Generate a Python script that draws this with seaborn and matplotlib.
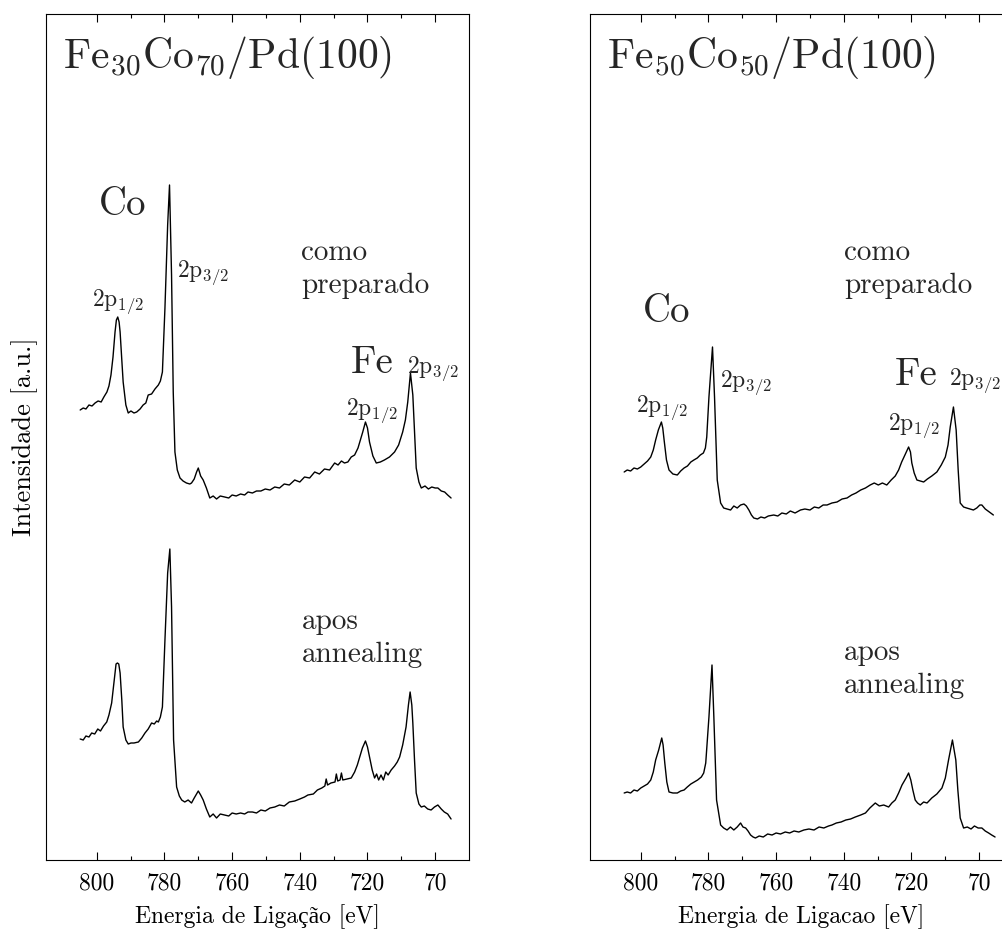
import matplotlib
matplotlib.use("Agg")
import matplotlib.pyplot as plt
import seaborn as sns

# ---------------- data ----------------
# binding energy [eV] and intensity [a.u.]
E_30_prep = [804.9, 804.0, 803.2, 802.3, 801.4, 800.5, 799.6, 798.7, 797.9, 797.0, 796.4, 795.8, 795.2, 794.6,
             794.2, 793.8, 793.4, 793.1, 792.6, 792.2, 791.4, 790.7, 789.9, 789.0, 788.2, 787.2, 786.3, 785.5,
             784.8, 783.8, 782.8, 781.8, 781.2, 780.6, 779.85, 779.05, 778.5, 777.9, 777.4, 776.9, 776.2, 775.4,
             774.5, 773.5, 772.5, 772.0, 771.2, 770.5, 770.0, 769.3, 768.55, 767.6, 766.6, 765.6, 764.6, 763.5,
             762.2, 761.0, 760.0, 758.8, 757.5, 756.3, 755.3, 754.0, 752.8, 751.5, 750.2, 748.8, 747.4, 746.0,
             744.6, 743.1, 741.5, 740.0, 738.6, 737.1, 735.6, 734.2, 732.7, 731.2, 729.7, 728.7, 727.7, 726.8,
             725.8, 724.8, 723.8, 722.8, 722.1, 721.4, 720.6, 720.0, 719.4, 718.4, 717.4, 716.2, 715.0, 713.5,
             712.0, 710.8, 709.6, 708.8, 708.1, 707.3, 706.6, 705.6, 704.8, 704.1, 703.0, 702.0, 701.0, 700.0,
             699.2, 698.2, 697.2, 696.3, 695.3]
I_30_prep = [450, 452, 451, 455, 454, 457, 459, 458, 463, 468, 474, 485, 503, 528,
             540, 543, 538, 528, 500, 478, 455, 447, 449, 447, 448, 451, 455, 457,
             465, 466, 471, 475, 479, 488, 552, 635, 675, 585, 468, 408, 390, 382,
             379, 377, 376, 377, 381, 388, 392, 384, 380, 372, 362, 364, 361, 364,
             363, 362, 365, 364, 366, 365, 368, 367, 369, 369, 371, 370, 373, 372,
             376, 375, 380, 378, 383, 382, 388, 386, 391, 390, 397, 395, 399, 397,
             398, 403, 405, 412, 420, 428, 438, 432, 418, 404, 397, 398, 400, 403,
             408, 415, 428, 440, 458, 487, 465, 392, 378, 372, 374, 371, 373, 372,
             372, 369, 368, 365, 362]

E_30_ann = [804.9, 804.0, 803.2, 802.3, 801.5, 800.6, 799.7, 798.9, 798.0, 797.05, 796.4, 795.6, 795.1, 794.6,
            794.3, 793.9, 793.5, 793.1, 792.6, 792.2, 791.4, 790.7, 789.9, 789.0, 787.7, 786.7, 785.75, 784.8,
            783.8, 783.0, 782.3, 781.8, 781.2, 780.6, 779.85, 779.05, 778.4, 777.9, 777.3, 776.4, 775.6, 774.9,
            774.0, 773.0, 772.0, 771.2, 770.5, 770.0, 769.3, 768.55, 767.6, 766.6, 765.6, 764.6, 763.5, 762.2,
            761.0, 760.0, 758.8, 757.5, 756.3, 755.3, 754.0, 752.8, 751.5, 750.2, 748.8, 747.4, 746.0, 744.6,
            743.1, 741.5, 740.0, 738.6, 737.6, 736.0, 734.8, 733.5, 732.6, 732.2, 731.8, 730.8, 729.6, 729.2,
            728.8, 728.1, 727.7, 727.3, 726.0, 724.8, 723.8, 723.0, 722.3, 721.5, 720.6, 720.0, 719.4, 718.6,
            717.9, 717.3, 716.7, 716.0, 715.3, 714.6, 713.9, 713.0, 712.0, 711.2, 710.5, 709.6, 708.6, 707.9,
            707.4, 706.9, 706.6, 706.1, 705.6, 704.8, 704.1, 703.2, 702.2, 701.2, 700.2, 699.2, 698.2, 697.3,
            696.3, 695.3]
I_30_ann = [121, 120, 124, 123, 127, 126, 131, 129, 134, 138, 145, 157, 172, 187,
            196, 197, 196, 187, 160, 133, 120, 116, 117, 117, 118, 122, 127, 131,
            137, 136, 139, 138, 143, 153, 220, 287, 311, 253, 120, 73, 64, 60,
            58, 60, 57, 62, 66, 69, 65, 60, 51, 43, 46, 42, 46, 45,
            44, 47, 46, 47, 46, 48, 48, 47, 50, 49, 52, 53, 55, 54,
            58, 59, 61, 63, 65, 66, 70, 72, 74, 81, 75, 77, 78, 86,
            79, 80, 87, 80, 81, 82, 88, 95, 103, 112, 119, 113, 103, 90,
            82, 86, 80, 85, 80, 88, 85, 90, 94, 98, 103, 115, 133, 155,
            168, 155, 137, 100, 67, 56, 53, 54, 51, 50, 53, 55, 51, 48,
            46, 41]

E_50_prep = [804.9, 804.0, 803.0, 802.0, 801.0, 800.0, 799.0, 798.0, 797.05, 796.3, 795.6, 794.8, 793.9, 793.5,
             793.1, 792.4, 791.65, 790.5, 789.2, 788.2, 787.2, 786.2, 785.2, 784.3, 783.3, 782.4, 781.5, 780.9,
             780.5, 779.85, 778.8, 778.2, 777.4, 776.4, 775.5, 774.5, 773.45, 772.5, 771.5, 770.5, 769.5, 768.8,
             768.05, 767.3, 766.6, 765.5, 764.5, 763.4, 762.3, 760.7, 759.5, 758.3, 757.0, 755.8, 754.4, 752.8,
             751.5, 750.0, 748.7, 747.4, 746.1, 744.95, 743.5, 742.0, 740.5, 739.05, 737.7, 736.4, 735.0, 733.6,
             732.2, 731.0, 729.8, 728.6, 727.3, 726.0, 724.8, 723.8, 722.9, 721.8, 720.85, 720.3, 719.9, 719.2,
             718.4, 717.4, 716.4, 715.3, 714.0, 712.5, 711.2, 710.0, 709.2, 708.55, 707.6, 706.8, 706.2, 705.6,
             704.6, 703.7, 702.7, 701.7, 700.7, 699.8, 699.2, 698.2, 697.0, 695.8]
I_50_prep = [388, 390, 389, 392, 391, 393, 396, 399, 403, 410, 420, 430, 438, 432,
             420, 400, 390, 386, 385, 389, 392, 394, 398, 400, 402, 405, 407, 412,
             423, 463, 513, 463, 380, 357, 352, 351, 350, 354, 352, 355, 356, 354,
             350, 345, 342, 341, 343, 342, 344, 345, 344, 347, 346, 349, 347, 350,
             351, 350, 353, 352, 355, 355, 357, 358, 361, 362, 365, 367, 370, 372,
             375, 377, 375, 377, 375, 380, 384, 390, 398, 406, 413, 408, 397, 387,
             380, 379, 378, 381, 384, 388, 395, 403, 415, 433, 453, 430, 390, 357,
             353, 352, 351, 350, 352, 355, 355, 351, 348, 345]

E_50_ann = [804.9, 804.0, 803.0, 802.0, 801.0, 800.0, 799.0, 798.0, 797.05, 796.3, 795.6, 794.7, 793.8, 793.4,
            792.9, 792.3, 791.65, 790.5, 789.2, 788.2, 787.2, 786.25, 785.2, 784.2, 783.2, 782.1, 781.4, 780.8,
            779.85, 778.95, 778.4, 777.6, 776.4, 775.5, 774.5, 773.5, 772.5, 771.5, 770.5, 769.8, 769.0, 768.3,
            767.55, 766.8, 766.1, 765.0, 763.8, 762.5, 761.2, 760.0, 758.7, 757.3, 756.0, 754.7, 753.3, 751.8,
            750.3, 748.8, 747.3, 745.9, 744.5, 743.5, 742.2, 740.8, 739.4, 738.0, 736.6, 735.0, 733.6, 732.3,
            730.7, 729.5, 728.2, 726.75, 725.8, 724.8, 723.8, 722.8, 721.6, 720.85, 720.2, 719.6, 718.9, 718.2,
            717.4, 716.4, 715.4, 714.0, 712.5, 711.0, 710.0, 709.05, 707.9, 706.9, 706.3, 705.6, 704.6, 703.5,
            702.4, 701.4, 700.3, 699.2, 698.2, 697.2, 696.3, 695.3]
I_50_ann = [67, 68, 67, 70, 69, 72, 74, 76, 80, 88, 100, 110, 122, 115,
            97, 78, 68, 67, 67, 69, 70, 73, 76, 78, 80, 83, 87, 97,
            143, 195, 143, 60, 35, 32, 30, 33, 30, 33, 37, 33, 32, 29,
            25, 23, 22, 24, 23, 26, 25, 27, 26, 28, 27, 29, 28, 30,
            31, 30, 33, 32, 34, 35, 37, 38, 40, 41, 43, 45, 47, 52,
            57, 54, 55, 53, 57, 60, 67, 75, 82, 87, 80, 70, 60, 57,
            55, 58, 57, 62, 66, 72, 82, 100, 120, 100, 70, 42, 32, 33,
            31, 34, 32, 32, 29, 27, 25, 23]

major_ticks = [800, 780, 760, 740, 720, 700]
tick_labels = ["800", "780", "760", "740", "720", "70"]
minor_ticks = [790, 770, 750, 730, 710]

titles = [r"Fe$_{30}$Co$_{70}$/Pd(100)", r"Fe$_{50}$Co$_{50}$/Pd(100)"]
xlabels = ["Energia de Ligação [eV]", "Energia de Ligacao [eV]"]

# ---------------- style ----------------
sns.set_theme(style="white")
plt.rcParams["font.family"] = ["cmr10", "Liberation Serif"]
plt.rcParams["mathtext.fontset"] = "cm"
plt.rcParams["axes.formatter.use_mathtext"] = True
plt.rcParams["axes.unicode_minus"] = False

fig = plt.figure(figsize=(10.02, 9.32), dpi=100)
ax1 = fig.add_axes([46 / 1002, 72 / 932, 423 / 1002, 846 / 932])
ax2 = fig.add_axes([590 / 1002, 72 / 932, 423 / 1002, 846 / 932])

panels = [
    (ax1, E_30_prep, I_30_prep, E_30_ann, I_30_ann),
    (ax2, E_50_prep, I_50_prep, E_50_ann, I_50_ann),
]

for i, (ax, ep, ip, ea, ia) in enumerate(panels):
    sns.lineplot(x=ep, y=ip, ax=ax, color="black", linewidth=1.0, estimator=None, sort=False)
    sns.lineplot(x=ea, y=ia, ax=ax, color="black", linewidth=1.0, estimator=None, sort=False)
    ax.set_xlim(815, 690)
    ax.set_ylim(0, 846)
    ax.set_xticks(major_ticks)
    ax.set_xticklabels(tick_labels)
    ax.set_xticks(minor_ticks, minor=True)
    ax.set_yticks([])
    ax.tick_params(axis="x", which="both", direction="in", top=True, bottom=True,
                   colors="black", labelsize=17, pad=9, width=0.8)
    ax.tick_params(axis="x", which="major", length=6)
    ax.tick_params(axis="x", which="minor", length=3)
    for sp in ax.spines.values():
        sp.set_visible(True)
        sp.set_color("black")
        sp.set_linewidth(0.8)
    ax.set_xlabel(xlabels[i], fontsize=17, labelpad=7, color="black")
    ax.text(809.9, 792, titles[i], fontsize=30, ha="left", va="baseline")

ax1.set_ylabel("Intensidade [a.u.]", fontsize=19, labelpad=6, color="black")

# left panel annotations
ax1.text(799.5, 645, "Co", fontsize=28, ha="left", va="baseline")
ax1.text(724.8, 487, "Fe", fontsize=28, ha="left", va="baseline")
ax1.text(801.5, 554, r"2p$_{1/2}$", fontsize=17, ha="left", va="baseline")
ax1.text(776.4, 583, r"2p$_{3/2}$", fontsize=17, ha="left", va="baseline")
ax1.text(726.3, 445, r"2p$_{1/2}$", fontsize=17, ha="left", va="baseline")
ax1.text(708.4, 487, r"2p$_{3/2}$", fontsize=17, ha="left", va="baseline")
ax1.text(739.5, 566.7, "como\npreparado", fontsize=21, ha="left", va="baseline", linespacing=1.32)
ax1.text(739.5, 198.3, "apos\nannealing", fontsize=21, ha="left", va="baseline", linespacing=1.32)

# right panel annotations
ax2.text(799.5, 538.3, "Co", fontsize=28, ha="left", va="baseline")
ax2.text(724.8, 475, "Fe", fontsize=28, ha="left", va="baseline")
ax2.text(801.5, 448.3, r"2p$_{1/2}$", fontsize=17, ha="left", va="baseline")
ax2.text(776.7, 473.3, r"2p$_{3/2}$", fontsize=17, ha="left", va="baseline")
ax2.text(726.8, 430, r"2p$_{1/2}$", fontsize=17, ha="left", va="baseline")
ax2.text(708.85, 475, r"2p$_{3/2}$", fontsize=17, ha="left", va="baseline")
ax2.text(740.0, 566.7, "como\npreparado", fontsize=21, ha="left", va="baseline", linespacing=1.32)
ax2.text(740.0, 167.3, "apos\nannealing", fontsize=21, ha="left", va="baseline", linespacing=1.32)

fig.savefig("out.png", dpi=100)
